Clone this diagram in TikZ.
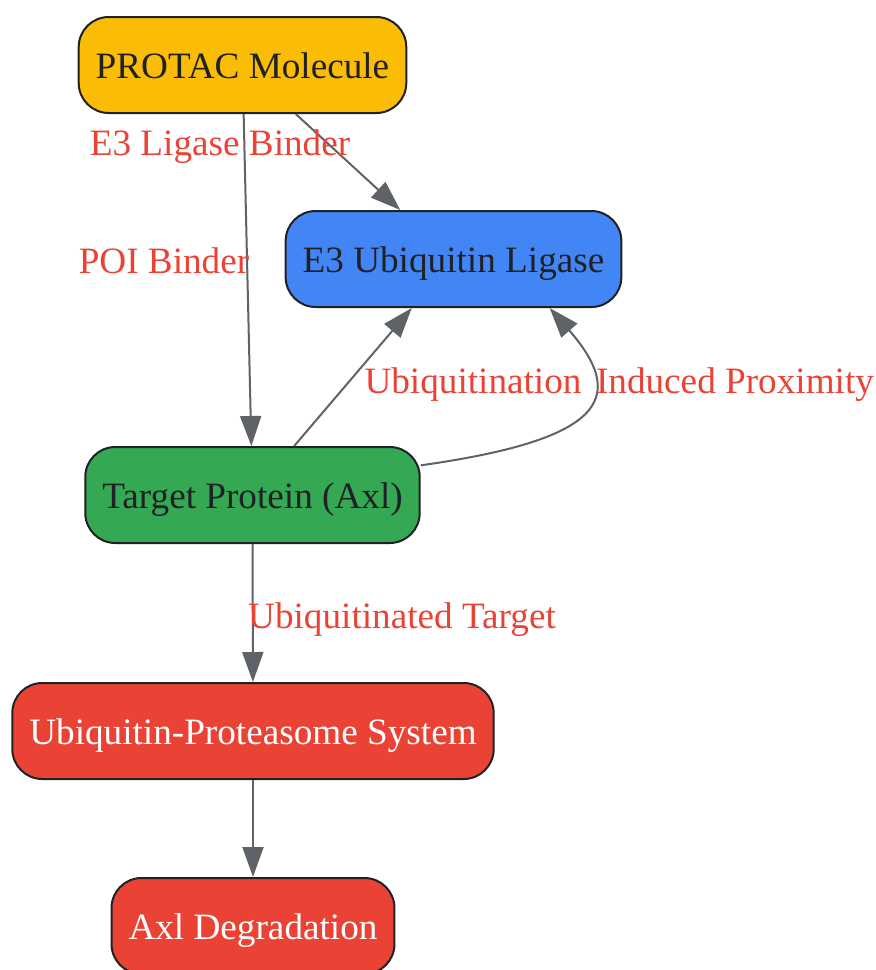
\documentclass[tikz,border=0pt]{standalone}
\usepackage{fontspec}
\setmainfont{Liberation Serif}
\usetikzlibrary{arrows.meta}
\usetikzlibrary{positioning}
\definecolor{gyellow}{HTML}{FBBC05}
\definecolor{gblue}{HTML}{4285F4}
\definecolor{ggreen}{HTML}{34A853}
\definecolor{gred}{HTML}{EA4335}
\definecolor{ggray}{HTML}{5F6368}
\definecolor{gdark}{HTML}{202124}
\tikzset{
	box/.style={rectangle, draw=gdark, line width=1pt, rounded corners=15pt, minimum height=48pt, inner xsep=8.5pt, text height=17pt, text depth=4pt, text=gdark, font=\fontsize{18.6}{22}\selectfont},
	redbox/.style={box, fill=gred, text=white},
	lbl/.style={text=gred, text height=17pt, text depth=4pt, font=\fontsize{18.6}{22}\selectfont},
	arrow/.style={draw=ggray, line width=1pt, -{Triangle[length=15pt, width=10.5pt]}}
}
\begin{document}
\begin{tikzpicture}[x=0.5pt, y=-0.5pt]

\useasboundingbox (0,0) rectangle (876,970);

\node[box, fill=gyellow] (protac) at (242.5,65) {PROTAC Molecule};

\node[box, fill=gblue] (e3) at (453.5,259) {E3 Ubiquitin Ligase};

\node[box, fill=ggreen] (target) at (252.5,495) {Target Protein (Axl)};

\node[redbox] (ups) at (253,731) {Ubiquitin-Proteasome System};

\node[redbox] (degr) at (253,926) {Axl Degradation};

\draw [arrow] (protac) -- (e3);
\draw [arrow] (protac) -- (target);
\draw [arrow] (target) -- (e3);
\draw [arrow] (target.10) .. controls (600,440) and (630,400) .. (e3.-27);
\draw [arrow] (target) -- (ups);
\draw [arrow] (ups) -- (degr);

\node[lbl] (lbinder) at (220,142) {E3 Ligase Binder};
\node[lbl] (lpoi) at (164,260) {POI Binder};
\node[lbl] (lubiq) at (473,380) {Ubiquitination};
\node[lbl] (lprox) at (735,380) {Induced Proximity};
\node[lbl] (ltarget) at (402,615) {Ubiquitinated Target};

\end{tikzpicture}
\end{document}
